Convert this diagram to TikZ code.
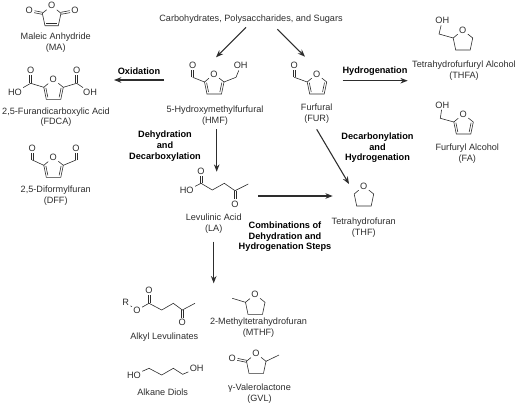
\documentclass[tikz,border=0pt]{standalone}
\usepackage{fontspec}
\setmainfont{Liberation Sans}
\usepackage{xcolor}
\usetikzlibrary{arrows.meta, calc}
\definecolor{inkgray}{RGB}{45,45,45}
\tikzset{
  lbl/.style={font=\fontsize{6.85}{8.25}\selectfont, text=inkgray, align=center, inner sep=0pt, yshift=-.7pt},
  step lbl/.style={font=\fontsize{6.9}{8.0}\selectfont\bfseries, text=black, align=center, inner sep=0pt, yshift=-.7pt},
  atom/.style={font=\fontsize{6.9}{8}\selectfont, text=inkgray, inner sep=.9pt},
  bond/.style={draw=inkgray, line width=.45pt},
  arrow/.style={-{Stealth[length=5.5pt,width=4.2pt]}, draw=inkgray, line width=.8pt}
}
% ring with its oxygen at #2,#3
\newcommand{\ringfive}[3]{
  \node[atom] (#1O) at (#2,#3) {O};
  \coordinate (#1a) at (#2-9.5,#3+8);
  \coordinate (#1b) at (#2+10,#3+8);
  \coordinate (#1c) at (#2-7,#3+20);
  \coordinate (#1d) at (#2+7.5,#3+20);
  \coordinate (#1m) at (#2,#3+11);
  \draw[bond] (#1O) -- (#1a) -- (#1c) -- (#1d) -- (#1b) -- (#1O);
}
\newcommand{\ringdbl}[1]{
  \draw[bond] ($(#1a)!.22!(#1m)$) -- ($(#1c)!.22!(#1m)$);
  \draw[bond] ($(#1b)!.22!(#1m)$) -- ($(#1d)!.22!(#1m)$);
}
% double bond, #3 is the angle of the offset
\newcommand{\dblbond}[3]{
  \draw[bond, transform canvas={shift={(#3:.75pt)}}] (#1) -- (#2);
  \draw[bond, transform canvas={shift={(#3+180:.75pt)}}] (#1) -- (#2);
}
\begin{document}
\begin{tikzpicture}[x=.75pt, y=-.75pt]
  \useasboundingbox (0,0) rectangle (520,407);

  % maleic anhydride
  \node[atom] (maO) at (51.7,5.7) {O};
  \node[atom] (maOl) at (29.3,10.7) {O};
  \node[atom] (maOr) at (75,10.7) {O};
  \coordinate (maa) at (42.3,13.3);
  \coordinate (mab) at (61,13.3);
  \coordinate (mac) at (45,25.7);
  \coordinate (mad) at (58.3,25.7);
  \coordinate (mam) at (51.7,16);
  \draw[bond] (maO) -- (maa) -- (mac) -- (mad) -- (mab) -- (maO);
  \draw[bond] ($(mac)!.2!(mam)$) -- ($(mad)!.2!(mam)$);
  \dblbond{maa}{maOl}{75}
  \dblbond{mab}{maOr}{105}
  \node[lbl] (ma) at (55.7,42.2) {Maleic Anhydride\\(MA)};

  % FDCA
  \ringfive{fd}{53.3}{79.3}
  \ringdbl{fd}
  \coordinate (fdL) at (30.7,83.3);
  \coordinate (fdR) at (76.7,83.3);
  \node[atom] (fdOl) at (30.7,70.7) {O};
  \node[atom] (fdOr) at (76.7,70.7) {O};
  \node[atom] (fdHl) at (15,92.3) {HO};
  \node[atom] (fdHr) at (90,92.3) {OH};
  \draw[bond] (fda) -- (fdL) -- (fdHl);
  \draw[bond] (fdb) -- (fdR) -- (fdHr);
  \dblbond{fdL}{fdOl}{0}
  \dblbond{fdR}{fdOr}{0}
  \node[lbl] (fdca) at (56,116.2) {2,5-Furandicarboxylic Acid\\(FDCA)};

  % DFF
  \ringfive{df}{53.3}{157.3}
  \ringdbl{df}
  \coordinate (dfL) at (32.3,160);
  \coordinate (dfR) at (76,160);
  \node[atom] (dfOl) at (32.3,148.3) {O};
  \node[atom] (dfOr) at (76,148.3) {O};
  \draw[bond] (dfa) -- (dfL);
  \draw[bond] (dfb) -- (dfR);
  \dblbond{dfL}{dfOl}{0}
  \dblbond{dfR}{dfOr}{0}
  \node[lbl] (dff) at (55.7,194.6) {2,5-Diformylfuran\\(DFF)};

  \node[lbl] (carbo) at (251,18) {Carbohydrates, Polysaccharides, and Sugars};

  % HMF
  \ringfive{hm}{214}{74}
  \ringdbl{hm}
  \coordinate (hmL) at (192.7,77.3);
  \coordinate (hmR) at (236,77.3);
  \node[atom] (hmO1) at (192.7,65) {O};
  \node[atom] (hmOH) at (240.7,65.7) {OH};
  \draw[bond] (hma) -- (hmL);
  \dblbond{hmL}{hmO1}{0}
  \draw[bond] (hmb) -- (hmR) -- (hmOH);
  \node[lbl] (hmf) at (215,114.5) {5-Hydroxymethylfurfural\\(HMF)};

  % furfural
  \ringfive{fu}{316.7}{74}
  \ringdbl{fu}
  \coordinate (fuL) at (294.3,77.3);
  \node[atom] (fuO1) at (294.3,65.7) {O};
  \draw[bond] (fua) -- (fuL);
  \dblbond{fuL}{fuO1}{0}
  \node[lbl] (fur) at (316.7,113.2) {Furfural\\(FUR)};

  % THFA
  \ringfive{ta}{462.7}{30}
  \coordinate (taC) at (439,34);
  \node[atom] (taOH) at (442.3,20.7) {OH};
  \draw[bond] (taa) -- (taC) -- (taOH);
  \node[lbl] (thfa) at (464,69.5) {Tetrahydrofurfuryl Alcohol\\(THFA)};

  % FA
  \ringfive{fa}{463.3}{114}
  \ringdbl{fa}
  \coordinate (faC) at (440.3,118.3);
  \node[atom] (faOH) at (442.3,105) {OH};
  \draw[bond] (faa) -- (faC) -- (faOH);
  \node[lbl] (fal) at (467.3,153.2) {Furfuryl Alcohol\\(FA)};

  % levulinic acid
  \node[atom] (laO1) at (201,171) {O};
  \node[atom] (laHO) at (186.7,190.7) {HO};
  \node[atom] (laO2) at (235,204) {O};
  \coordinate (la1) at (201,183.3);
  \coordinate (la2) at (212.3,190);
  \coordinate (la3) at (224.3,183.3);
  \coordinate (la4) at (235,190.7);
  \coordinate (la5) at (248.3,184);
  \dblbond{la1}{laO1}{0}
  \draw[bond] (laHO) -- (la1) -- (la2) -- (la3) -- (la4) -- (la5);
  \dblbond{la4}{laO2}{0}
  \node[lbl] (la) at (213.7,222.2) {Levulinic Acid\\(LA)};

  % THF
  \ringfive{th}{363.7}{186}
  \node[lbl] (thf) at (363.7,226.4) {Tetrahydrofuran\\(THF)};

  % alkyl levulinates
  \node[atom] (alR) at (125.7,302.7) {R};
  \node[atom] (alO) at (137,310) {O};
  \node[atom] (alO1) at (149,290) {O};
  \node[atom] (alO2) at (182.3,322.3) {O};
  \coordinate (al1) at (149,303.3);
  \coordinate (al2) at (161.7,310);
  \coordinate (al3) at (173.3,303.3);
  \coordinate (al4) at (182.3,310);
  \coordinate (al5) at (195,303.3);
  \draw[bond] (alR) -- (alO) -- (al1) -- (al2) -- (al3) -- (al4) -- (al5);
  \dblbond{al1}{alO1}{0}
  \dblbond{al4}{alO2}{0}
  \node[lbl] (alkyl) at (164.3,336) {Alkyl Levulinates};

  % MTHF
  \ringfive{mt}{255}{294.3}
  \coordinate (mtC) at (232.3,298.3);
  \draw[bond] (mta) -- (mtC);
  \node[lbl] (mthf) at (258.5,326.4) {2-Methyltetrahydrofuran\\(MTHF)};

  % alkane diols
  \node[atom] (adHO) at (134,375) {HO};
  \node[atom] (adOH) at (196.7,368.3) {OH};
  \coordinate (ad1) at (149,368.3);
  \coordinate (ad2) at (161.7,375);
  \coordinate (ad3) at (173.3,368.3);
  \coordinate (ad4) at (182.7,374.3);
  \draw[bond] (adHO) -- (ad1) -- (ad2) -- (ad3) -- (ad4) -- (adOH);
  \node[lbl] (diols) at (162.7,391) {Alkane Diols};

  % GVL
  \ringfive{gv}{256}{353.3}
  \node[atom] (gvO1) at (232.3,358.3) {O};
  \coordinate (gvC) at (279,355);
  \dblbond{gva}{gvO1}{75}
  \draw[bond] (gvb) -- (gvC);
  \node[lbl] (gvl) at (259.5,392.2) {γ-Valerolactone\\(GVL)};

  % step labels
  \node[step lbl] (oxi) at (139,70) {Oxidation};
  \node[step lbl] (dehy) at (165,145.3) {Dehydration\\and\\Decarboxylation};
  \node[step lbl] (hydro) at (375,70) {Hydrogenation};
  \node[step lbl] (decarb) at (377.5,147) {Decarbonylation\\and\\Hydrogenation};
  \node[step lbl] (combo) at (285,236) {Combinations of\\Dehydration and\\Hydrogenation Steps};

  % free ends of the arrows
  \coordinate (carboL) at (246,27.3);
  \coordinate (carboR) at (277.3,29.3);
  \coordinate (hmfTop) at (216,57.3);
  \coordinate (furTop) at (305,56.7);
  \coordinate (hmfLeft) at (164,80);
  \coordinate (fdcaRight) at (114,80);
  \coordinate (furRight) at (342.7,80.7);
  \coordinate (thfaLeft) at (407.7,80.7);
  \coordinate (hmfDown) at (216.7,129.3);
  \coordinate (laTop) at (216.7,171.7);
  \coordinate (furDown) at (316.7,129.3);
  \coordinate (thfTop) at (349,184);
  \coordinate (laRight) at (258,196);
  \coordinate (thfLeft) at (332.7,196);
  \coordinate (laDown) at (213.7,241.7);
  \coordinate (prodTop) at (213.7,283.3);

  \draw[arrow] (carboL) -- (hmfTop);
  \draw[arrow] (carboR) -- (furTop);
  \draw[arrow] (hmfLeft) -- (fdcaRight);
  \draw[arrow] (furRight) -- (thfaLeft);
  \draw[arrow] (hmfDown) -- (laTop);
  \draw[arrow] (furDown) -- (thfTop);
  \draw[arrow] (laRight) -- (thfLeft);
  \draw[arrow] (laDown) -- (prodTop);
\end{tikzpicture}
\end{document}
